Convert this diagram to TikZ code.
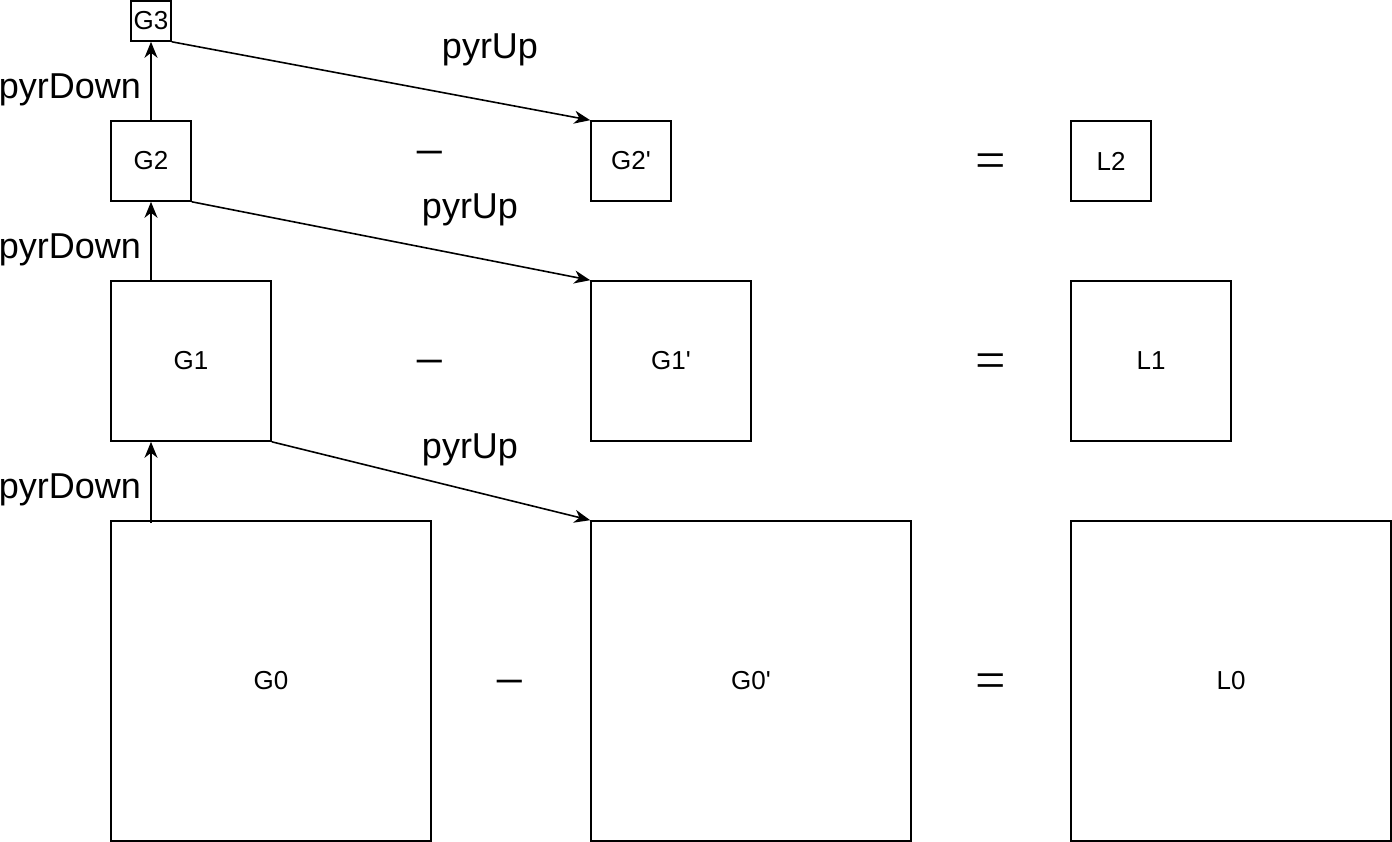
\documentclass[tikz,border=0pt]{standalone}
\usepackage{fontspec}
\setmainfont{Liberation Sans}
\newfontfamily\opfont{Liberation Serif}
\usetikzlibrary{arrows.meta}
\begin{document}
\begin{tikzpicture}[x=1pt,y=-1pt,
  box/.style={draw,line width=1.6pt,minimum width=#1,minimum height=#1,inner sep=0pt,font=\fontsize{26}{30}\selectfont},
  arr/.style={line width=1.6pt,-{Stealth[length=16pt,width=13pt,inset=5pt]}},
  lbl/.style={font=\fontsize{36}{42}\selectfont,inner sep=0pt},
  op/.style={font=\opfont\fontsize{54}{58}\selectfont,inner sep=0pt}]
\useasboundingbox (0,0) rectangle (1392,842);
\node[box=40pt] (G3) at (151,21) {G3};
\node[box=80pt] (G2) at (151,161) {G2};
\node[box=80pt] (G2p) at (631,161) {G2\textquotesingle};
\node[box=80pt] (L2) at (1111,161) {L2};
\node[box=160pt] (G1) at (191,361) {G1};
\node[box=160pt] (G1p) at (671,361) {G1\textquotesingle};
\node[box=160pt] (L1) at (1151,361) {L1};
\node[box=320pt] (G0) at (271,681) {G0};
\node[box=320pt] (G0p) at (751,681) {G0\textquotesingle};
\node[box=320pt] (L0) at (1231,681) {L0};
\coordinate (g0top) at (151,523);
\draw[arr] (G2.north) -- (G3.south);
\draw[arr] (G2.south |- G1.north) -- (G2.south);
\draw[arr] (g0top) -- (g0top |- G1.south);
\draw[arr] (G3.south east) -- (G2p.north west);
\draw[arr] (G2.south east) -- (G1p.north west);
\draw[arr] (G1.south east) -- (G0p.north west);
\node[lbl] (d2) at (70,90) {pyrDown};
\node[lbl] (d1) at (70,250) {pyrDown};
\node[lbl] (d0) at (70,490) {pyrDown};
\node[lbl] (u2) at (490,50) {pyrUp};
\node[lbl] (u1) at (470,210) {pyrUp};
\node[lbl] (u0) at (470,450) {pyrUp};
\node[op] (m2) at (430,160.5) {−};
\node[op] (m1) at (430,369.5) {−};
\node[op] (m0) at (510,689.5) {−};
\node[op] (e2) at (991,166) {=};
\node[op] (e1) at (991,366) {=};
\node[op] (e0) at (991,686) {=};
\end{tikzpicture}
\end{document}
